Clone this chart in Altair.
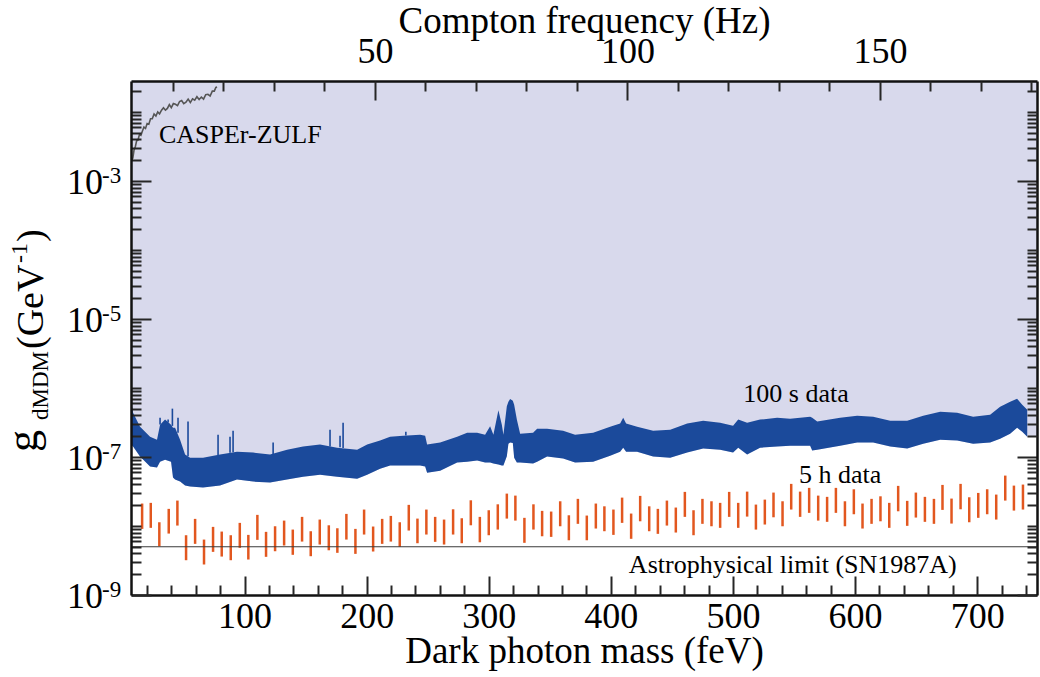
import altair as alt
import pandas as pd

FONT = "Liberation Serif"
HZ = 4.135667  # feV per Hz (Compton frequency)
W, H = 906, 514
G_TOP = 0.028  # upper end of the coupling axis

# ---------------- data ----------------
# 100 s data band: mass (feV), upper / lower envelope as log10(g / GeV^-1)
band_x = [7.0, 8.7, 14.4, 22.6, 28.3, 30.8, 34.9, 39.8, 41.4, 43.1, 47.2, 51.3, 55.4, 66.0, 79.9,
          93.8, 107.1, 120.9, 134.8, 147.9, 161.8, 175.8, 192.2, 200.4, 211.0, 219.2, 229.9, 243.8,
          247.9, 249.5, 260.2, 274.1, 282.3, 290.5, 297.0, 301.1, 303.8, 307.9, 310.7, 312.0, 314.8,
          316.1, 317.5, 319.7, 320.8, 323.0, 325.7, 336.3, 339.6, 347.8, 360.9, 370.7, 385.5, 399.4,
          407.6, 410.1, 412.5, 421.5, 434.6, 448.6, 462.5, 475.6, 489.5, 500.1, 504.3, 511.6, 522.2,
          536.2, 546.8, 563.2, 564.9, 569.0, 587.8, 601.7, 614.8, 628.8, 642.7, 655.8, 669.7, 683.6,
          696.7, 710.6, 718.8, 727.0, 732.7, 736.9, 741.0]
band_upper_log = [-6.170, -6.358, -6.561, -6.706, -6.749, -6.532, -6.459, -6.532, -6.575, -6.575,
                  -6.749, -6.966, -7.010, -7.010, -6.966, -6.923, -6.937, -6.966, -6.894, -6.850,
                  -6.821, -6.865, -6.894, -6.821, -6.763, -6.706, -6.691, -6.677, -6.691, -6.821,
                  -6.792, -6.706, -6.648, -6.648, -6.677, -6.556, -6.677, -6.325, -6.532, -6.677,
                  -6.267, -6.199, -6.160, -6.184, -6.242, -6.459, -6.662, -6.648, -6.590, -6.590,
                  -6.619, -6.677, -6.648, -6.561, -6.517, -6.431, -6.517, -6.561, -6.619, -6.604,
                  -6.517, -6.474, -6.503, -6.546, -6.459, -6.503, -6.459, -6.431, -6.445, -6.416,
                  -6.431, -6.488, -6.431, -6.402, -6.416, -6.474, -6.474, -6.402, -6.344, -6.358,
                  -6.416, -6.387, -6.271, -6.199, -6.155, -6.242, -6.315]
band_lower_log = [-6.821, -6.850, -6.995, -7.140, -7.154, -7.068, -7.039, -7.068, -7.299, -7.328,
                  -7.357, -7.415, -7.429, -7.444, -7.415, -7.328, -7.357, -7.371, -7.328, -7.285,
                  -7.256, -7.285, -7.314, -7.256, -7.169, -7.125, -7.125, -7.125, -7.140, -7.227,
                  -7.198, -7.082, -7.068, -7.053, -7.082, -7.082, -7.096, -7.111, -7.125, -7.125,
                  -6.991, -6.807, -6.792, -6.797, -7.010, -7.082, -7.082, -7.096, -7.068, -6.995,
                  -7.024, -7.082, -7.068, -6.981, -6.923, -6.865, -6.923, -6.923, -6.995, -7.010,
                  -6.937, -6.879, -6.894, -6.937, -6.865, -6.966, -6.865, -6.850, -6.836, -6.836,
                  -6.908, -6.894, -6.836, -6.792, -6.792, -6.850, -6.879, -6.807, -6.749, -6.763,
                  -6.807, -6.792, -6.735, -6.662, -6.575, -6.633, -6.706]
# right end of the excluded (shaded) region
fill_end_x = 749.0
fill_end_log = -6.706

# narrow spikes on top of the 100 s band
spike_x = [30.8, 37.4, 40.9, 45.5, 53.7, 78.3, 88.1, 90.6, 123.4, 170.0, 178.2, 180.7, 232.1]
spike_top_log = [-6.431, -6.459, -6.300, -6.431, -6.488, -6.677, -6.706, -6.619, -6.792,
                 -6.604, -6.691, -6.503, -6.633]
spike_base_log = [-6.53, -6.50, -6.55, -6.65, -6.99, -6.97, -6.94, -6.93, -6.96, -6.85,
                  -6.86, -6.87, -6.69]

# CASPEr-ZULF limit
casper_x = [7.6, 8.5, 9.5, 10.5, 11.6, 12.7, 13.9, 15.1, 16.3, 17.6, 18.9, 20.2, 21.6, 23.0,
            24.4, 25.9, 27.4, 28.9, 30.4, 32.0, 33.6, 35.2, 36.8, 38.4, 40.0, 41.7, 43.4, 45.1,
            46.8, 48.5, 50.2, 52.0, 53.8, 55.6, 57.4, 59.2, 61.0, 62.8, 64.6, 66.4, 68.2, 70.0,
            71.8, 73.6, 75.2, 76.5, 77.5]
casper_log = [-2.70, -2.67, -2.55, -2.51, -2.42, -2.41, -2.33, -2.34, -2.28, -2.22, -2.24,
              -2.17, -2.18, -2.10, -2.10, -2.03, -2.06, -2.00, -2.03, -1.975, -1.94, -1.975,
              -1.95, -1.895, -1.94, -1.88, -1.89, -1.91, -1.85, -1.835, -1.88, -1.86, -1.815,
              -1.865, -1.81, -1.83, -1.78, -1.82, -1.785, -1.815, -1.75, -1.745, -1.77, -1.70,
              -1.70, -1.645, -1.64]

# 5 h data: vertical bars
h5_x = [16.1, 23.2, 30.2, 37.9, 45.0, 52.1, 59.5, 66.8, 74.2, 81.3,
        88.7, 96.1, 103.1, 110.5, 117.6, 125.0, 132.4, 139.5, 147.1, 154.2,
        161.6, 169.0, 176.0, 183.4, 190.8, 197.9, 205.3, 212.7, 219.8, 227.1,
        234.5, 241.6, 248.9, 256.1, 263.4, 270.8, 277.9, 285.3, 292.7, 300.0,
        307.4, 314.8, 321.8, 329.2, 336.6, 343.7, 351.1, 358.5, 365.6, 373.0,
        380.3, 387.7, 394.7, 402.1, 409.2, 416.6, 424.0, 431.4, 438.5, 445.9,
        453.2, 460.6, 467.7, 475.0, 482.4, 489.5, 496.9, 504.3, 511.6, 518.8,
        526.1, 533.2, 540.6, 547.7, 555.0, 562.4, 569.8, 577.1, 584.3, 591.7,
        599.0, 606.1, 613.5, 620.8, 628.0, 635.3, 642.7, 649.8, 657.2, 664.6,
        671.6, 679.0, 686.4, 693.5, 700.9, 708.2, 715.6, 723.0, 730.1, 737.5]
h5_hi_log = [-7.675, -7.665, -7.946, -7.752, -7.632, -8.134, -7.897, -8.197, -8.013, -8.081,
             -8.134, -7.955, -8.129, -7.839, -8.085, -8.004, -7.922, -8.052, -7.868, -8.076,
             -7.907, -7.990, -8.033, -7.825, -8.042, -7.762, -8.008, -7.897, -7.854, -7.946,
             -7.694, -7.893, -7.762, -7.868, -7.907, -7.758, -7.888, -7.628, -7.868, -7.772,
             -7.686, -7.531, -7.560, -7.882, -7.686, -7.781, -7.791, -7.642, -7.845, -7.607,
             -7.849, -7.675, -7.715, -7.762, -7.589, -7.820, -7.564, -7.715, -7.752, -7.632,
             -7.733, -7.506, -7.772, -7.607, -7.642, -7.665, -7.506, -7.665, -7.502, -7.690,
             -7.618, -7.516, -7.642, -7.390, -7.502, -7.448, -7.560, -7.578, -7.448, -7.642,
             -7.468, -7.675, -7.607, -7.570, -7.665, -7.419, -7.636, -7.516, -7.578, -7.607,
             -7.405, -7.603, -7.390, -7.584, -7.521, -7.468, -7.545, -7.270, -7.415, -7.400]
h5_lo_log = [-8.042, -8.027, -8.294, -8.110, -7.994, -8.496, -8.259, -8.558, -8.375, -8.443,
             -8.496, -8.317, -8.486, -8.201, -8.447, -8.366, -8.283, -8.418, -8.226, -8.438,
             -8.269, -8.352, -8.389, -8.197, -8.404, -8.124, -8.370, -8.259, -8.226, -8.302,
             -8.066, -8.250, -8.124, -8.230, -8.269, -8.124, -8.250, -7.990, -8.236, -8.134,
             -8.052, -7.893, -7.922, -8.244, -8.052, -8.149, -8.158, -8.004, -8.207, -7.969,
             -8.207, -8.037, -8.076, -8.129, -7.955, -8.186, -7.932, -8.076, -8.114, -7.994,
             -8.095, -7.868, -8.134, -7.969, -8.004, -8.027, -7.868, -8.027, -7.864, -8.052,
             -7.979, -7.874, -8.004, -7.762, -7.868, -7.810, -7.922, -7.940, -7.810, -8.004,
             -7.830, -8.037, -7.969, -7.932, -8.027, -7.787, -7.998, -7.878, -7.940, -7.969,
             -7.767, -7.965, -7.758, -7.946, -7.882, -7.830, -7.907, -7.632, -7.777, -7.762]

sn1987a_limit = [5.0e-9]

ann_text = ["CASPEr-ZULF", "100 s data", "5 h data", "Astrophysical limit (SN1987A)"]
ann_x = [96.5, 551.6, 587.7, 549.0]
ann_log = [-2.45, -6.209, -7.376, -8.679]

ylab_vals = [1e-9, 1e-7, 1e-5, 1e-3]
ylab_exp = ["-9", "-7", "-5", "-3"]

x_major = [100, 200, 300, 400, 500, 600, 700]
x_minor = [v for v in range(20, 750, 20) if v % 100 != 0]
hz_major = [50, 100, 150]
hz_minor = [v for v in range(10, 190, 10) if v % 50 != 0]
y_major = [1e-9, 1e-7, 1e-5, 1e-3]
y_minor = [k * 10.0 ** n for n in range(-9, -1) for k in range(1, 10)
           if not (k == 1 and n % 2 != 0) and k * 10.0 ** n <= G_TOP]

# ---------------- tables ----------------
band_df = pd.DataFrame({"m": band_x,
                        "hi": [10 ** v for v in band_upper_log],
                        "lo": [10 ** v for v in band_lower_log]})
fill_df = pd.DataFrame({"m": band_x + [fill_end_x],
                        "lo": [10 ** v for v in band_lower_log + [fill_end_log]]})
fill_df["top"] = G_TOP
spike_df = pd.DataFrame({"m": spike_x, "top": [10 ** v for v in spike_top_log],
                         "base": [10 ** v for v in spike_base_log]})
casper_df = pd.DataFrame({"m": casper_x, "g": [10 ** v for v in casper_log]})
h5_df = pd.DataFrame({"m": h5_x, "hi": [10 ** v for v in h5_hi_log],
                      "lo": [10 ** v for v in h5_lo_log]})
sn_df = pd.DataFrame({"g": sn1987a_limit})
ann_df = pd.DataFrame({"m": ann_x, "g": [10 ** v for v in ann_log], "t": ann_text})
ylab_df = pd.DataFrame({"g": ylab_vals, "e": ylab_exp})

xs = alt.Scale(domain=[7, 749], nice=False, zero=False)
ys = alt.Scale(type="log", domain=[1e-9, G_TOP], nice=False)

TICK = "#262626"


def tick_axis(orient, offset, values, size, domain=False):
    return alt.Axis(orient=orient, offset=offset, values=values, tickSize=size,
                    tickWidth=2, tickColor=TICK, labels=False, title=None, grid=False,
                    domain=domain, domainColor="#111111", domainWidth=2.5, zindex=2)


bottom_labels = alt.Axis(orient="bottom", values=x_major, ticks=False, tickSize=0, grid=False,
                         labelFont=FONT, labelFontSize=36, labelColor="black", labelPadding=4,
                         title="Dark photon mass (feV)", titleFont=FONT, titleFontSize=37,
                         titleFontWeight="normal", titleColor="black",
                         titleBaseline="alphabetic", titleY=67,
                         domain=True, domainColor="#111111", domainWidth=2.5, zindex=2)
top_labels = alt.Axis(orient="top", values=[h * HZ for h in hz_major], ticks=False, tickSize=0,
                      grid=False, labelExpr=f"format(datum.value / {HZ}, '.0f')",
                      labelFont=FONT, labelFontSize=36, labelColor="black", labelPadding=11,
                      title="Compton frequency (Hz)", titleFont=FONT, titleFontSize=37,
                      titleFontWeight="normal", titleColor="black",
                      titleBaseline="alphabetic", titleY=-49,
                      domain=True, domainColor="#111111", domainWidth=2.5, zindex=2)

fill = alt.Chart(fill_df).mark_area(color="#d8d9ec", opacity=1, clip=True).encode(
    x=alt.X("m:Q", scale=xs, axis=bottom_labels),
    y=alt.Y("lo:Q", scale=ys, stack=None, axis=tick_axis("right", -W, y_minor, 10)),
    y2="top:Q",
)

band = alt.Chart(band_df).mark_area(color="#1b4a9b", opacity=1, clip=True).encode(
    x=alt.X("m:Q", scale=xs, axis=tick_axis("top", -H, x_major, 19)),
    y=alt.Y("hi:Q", scale=ys, stack=None,
            axis=tick_axis("right", -W, y_major, 20, domain=True)),
    y2="lo:Q",
)

spikes = alt.Chart(spike_df).mark_rule(color="#1b4a9b", strokeWidth=1.6, clip=True).encode(
    x=alt.X("m:Q", scale=xs, axis=tick_axis("top", -H, x_minor, 10)),
    y=alt.Y("top:Q", scale=ys, axis=tick_axis("left", -W, y_major, 20, domain=True)),
    y2="base:Q",
)

casper = alt.Chart(casper_df).mark_line(color="#555555", strokeWidth=1.6, clip=True).encode(
    x=alt.X("m:Q", scale=xs, axis=top_labels),
    y=alt.Y("g:Q", scale=ys, axis=tick_axis("left", -W, y_minor, 10)),
)

bars = alt.Chart(h5_df).mark_rule(color="#e2571f", strokeWidth=2.5, clip=True).encode(
    x=alt.X("m:Q", scale=xs, axis=tick_axis("bottom", -H, [h * HZ for h in hz_major], 19)),
    y=alt.Y("hi:Q", scale=ys, axis=None),
    y2="lo:Q",
)

sn = alt.Chart(sn_df).mark_rule(color="#3a3a3a", strokeWidth=1.1).encode(
    y=alt.Y("g:Q", scale=ys, axis=None),
)

ann = alt.Chart(ann_df).mark_text(font=FONT, fontSize=26, color="black", align="center",
                                  baseline="alphabetic").encode(
    x=alt.X("m:Q", scale=xs, axis=tick_axis("bottom", -H, [h * HZ for h in hz_minor], 10)),
    y=alt.Y("g:Q", scale=ys, axis=None),
    text="t:N",
)

ylab10 = alt.Chart(ylab_df).mark_text(font=FONT, fontSize=36, color="black", align="right",
                                      baseline="middle", dy=2).encode(
    x=alt.value(-28), y=alt.Y("g:Q", scale=ys, axis=None), text=alt.value("10"))
ylabexp = alt.Chart(ylab_df).mark_text(font=FONT, fontSize=23, color="black", align="left",
                                       baseline="middle", dy=-5).encode(
    x=alt.value(-29), y=alt.Y("g:Q", scale=ys, axis=None), text="e:N")


def title_piece(txt, px, py, size):
    return alt.Chart(pd.DataFrame({"t": [txt]})).mark_text(
        font=FONT, fontSize=size, color="black", angle=270, align="left",
        baseline="alphabetic").encode(x=alt.value(px), y=alt.value(py), text="t:N")


ytitle = [
    title_piece("g", -94, 371, 44),
    title_piece("dMDM", -83, 339, 23),
    title_piece("(GeV", -88, 268, 38),
    title_piece("-1", -104, 182, 24),
    title_piece(")", -88, 161, 38),
]

chart = alt.layer(fill, band, spikes, casper, bars, sn, ann, ylab10, ylabexp, *ytitle).resolve_axis(
    x="independent", y="independent"
).properties(
    width=W, height=H,
    autosize=alt.AutoSizeParams(type="none"),
    padding={"left": 131, "top": 81, "right": 3, "bottom": 82},
    background="white",
).configure_view(stroke=None)

chart.save("out.html", embed_options={"renderer": "svg", "actions": False})
